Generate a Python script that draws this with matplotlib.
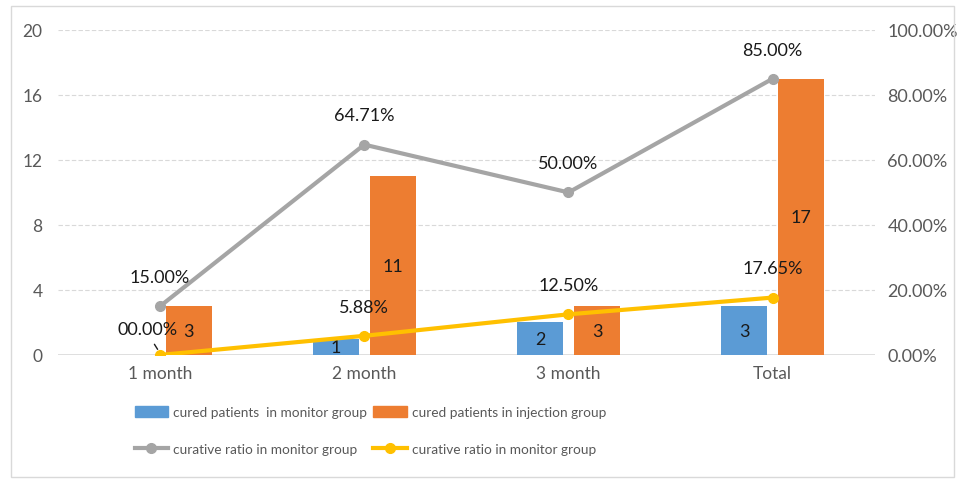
import matplotlib.pyplot as plt
import numpy as np
from matplotlib.lines import Line2D
from matplotlib.patches import Patch, Rectangle

categories = ['1 month', '2 month', '3 month', 'Total']
monitor_cured = [0, 1, 2, 3]
injection_cured = [3, 11, 3, 17]
ratio_gray = [15.00, 64.71, 50.00, 85.00]
ratio_yellow = [0.00, 5.88, 12.50, 17.65]
left_ticks = [0, 4, 8, 12, 16, 20]
right_ticks = [0, 20, 40, 60, 80, 100]

BLUE = '#5B9BD5'
ORANGE = '#ED7D31'
GRAY = '#A5A5A5'
YELLOW = '#FFC000'
TICK = '#595959'
LBL = '#1a1a1a'

plt.rcParams['font.family'] = ['Lato', 'DejaVu Sans']

fig = plt.figure(figsize=(9.57, 4.81), dpi=100)
fig.patches.append(Rectangle((0.011, 0.006), 0.986, 0.979, transform=fig.transFigure,
                             fill=False, edgecolor='#D9D9D9', linewidth=1))
ax = fig.add_axes([0.0606, 0.26, 0.8535, 0.6757])
ax2 = ax.twinx()

x = np.arange(len(categories))
w = 0.225
off = 0.14
b1 = ax.bar(x - off, monitor_cured, w, color=BLUE, zorder=2)
b2 = ax.bar(x + off, injection_cured, w, color=ORANGE, zorder=2)

for rect, v in zip(b1, monitor_cured):
    if v > 0:
        ax.text(rect.get_x() + rect.get_width() / 2, v / 2, str(v),
                ha='center', va='center', fontsize=13, color=LBL, zorder=5)
for rect, v in zip(b2, injection_cured):
    ax.text(rect.get_x() + rect.get_width() / 2, v / 2, str(v),
            ha='center', va='center', fontsize=13, color=LBL, zorder=5)

ax.set_xlim(-0.5, 3.5)
ax.set_ylim(0, 20)
ax.set_yticks(left_ticks)
ax.set_xticks(x)
ax.set_xticklabels(categories)
for y in left_ticks[1:]:
    ax.axhline(y, color='#D9D9D9', linestyle=(0, (4, 2)), linewidth=0.8, zorder=0)
ax.axhline(0, color='#D9D9D9', linewidth=1.2, zorder=1)
for a in (ax, ax2):
    for s in a.spines.values():
        s.set_visible(False)
    a.tick_params(length=0, labelsize=12.5, labelcolor=TICK)
ax.tick_params(axis='y', pad=11)
ax.tick_params(axis='x', pad=7)

ax2.set_ylim(0, 100)
ax2.set_yticks(right_ticks)
ax2.set_yticklabels(['{:.2f}%'.format(t) for t in right_ticks])
ax2.tick_params(axis='y', pad=9, labelsize=13)

ax2.plot(x, ratio_gray, color=GRAY, linewidth=3, marker='o', markersize=7, zorder=3)
ax2.plot(x, ratio_yellow, color=YELLOW, linewidth=3, marker='o', markersize=7, zorder=3)
ax2.set_zorder(ax.get_zorder() + 1)
ax2.patch.set_visible(False)

for xi, v in zip(x, ratio_gray):
    ax2.annotate('{:.2f}%'.format(v), (xi, v), xytext=(0, 21), textcoords='offset points',
                 ha='center', va='center', fontsize=13, color=LBL)
for xi, v in zip(x[1:], ratio_yellow[1:]):
    ax2.annotate('{:.2f}%'.format(v), (xi, v), xytext=(0, 21), textcoords='offset points',
                 ha='center', va='center', fontsize=13, color=LBL)
ax2.annotate('00.00%', (x[0], ratio_yellow[0]), xytext=(-9, 19), textcoords='offset points',
             ha='center', va='center', fontsize=13, color=LBL)
ax2.annotate('', (x[0] - 0.005, 1.0), xytext=(x[0] - 0.035, 4.0),
             arrowprops=dict(arrowstyle='-', color=LBL, lw=1))

handles = [Patch(color=BLUE), Patch(color=ORANGE),
           Line2D([], [], color=GRAY, lw=3, marker='o', markersize=7),
           Line2D([], [], color=YELLOW, lw=3, marker='o', markersize=7)]
labels = ['cured patients  in monitor group', 'cured patients in injection group',
          'curative ratio in monitor group', 'curative ratio in monitor group']
leg = fig.legend([handles[0], handles[2], handles[1], handles[3]],
                 [labels[0], labels[2], labels[1], labels[3]],
                 ncol=2, loc='center', bbox_to_anchor=(0.387, 0.103), frameon=False,
                 fontsize=9.8, handlelength=2.45, handleheight=0.8, columnspacing=0.45,
                 handletextpad=0.37, labelspacing=1.8)
for t in leg.get_texts():
    t.set_color(TICK)

fig.savefig('out.png', dpi=100)
